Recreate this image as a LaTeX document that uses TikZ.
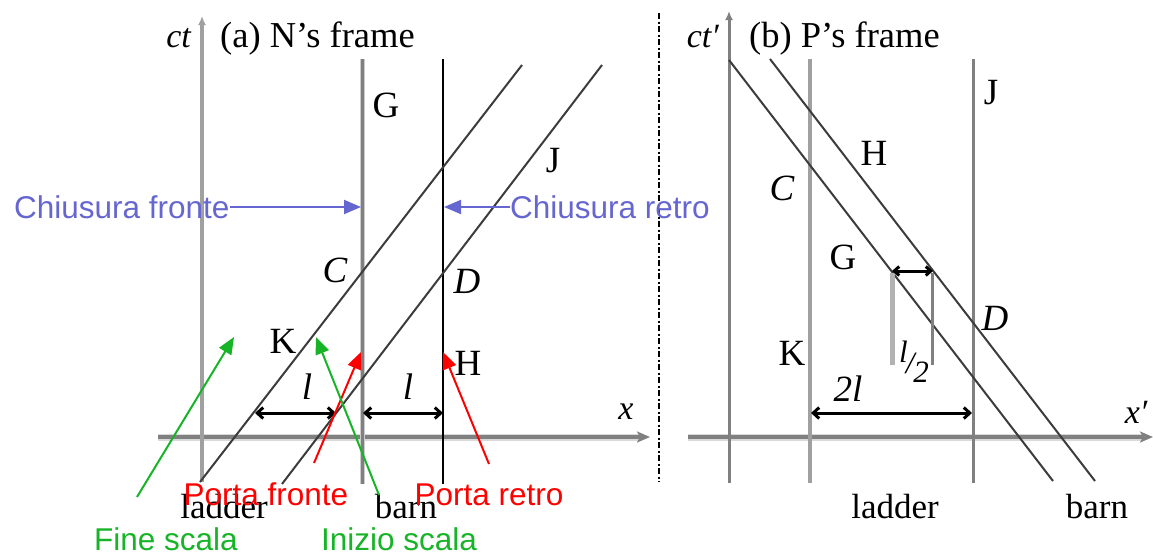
\documentclass[tikz,border=0pt]{standalone}
\usepackage{fontspec}
\setmainfont{Liberation Serif}
\newfontfamily\arialf{Liberation Sans}
\usetikzlibrary{arrows.meta}
\definecolor{annblue}{RGB}{102,102,208}
\definecolor{anngreen}{RGB}{24,180,40}
\definecolor{annred}{RGB}{255,0,0}
\definecolor{axgray}{RGB}{128,128,128}
\definecolor{ltgray}{RGB}{160,160,160}
\definecolor{dkline}{RGB}{60,60,60}
\begin{document}
\begin{tikzpicture}[x=1pt,y=-1pt,
  ttl/.style={font=\fontsize{36.5}{40}\selectfont, inner sep=0pt},
  wrd/.style={font=\fontsize{35}{40}\selectfont, inner sep=0pt},
  lbl/.style={font=\fontsize{37}{40}\selectfont, inner sep=0pt},
  ilbl/.style={font=\fontsize{37}{40}\selectfont\itshape, inner sep=0pt},
  ann/.style={font=\arialf\fontsize{31.5}{36}\selectfont, inner sep=0pt},
  annarrow/.style={line width=2pt, -{Triangle[length=17pt,width=14pt]}},
  vaxis/.style={line width=3.5pt, ltgray, -{Latex[length=9pt,width=8pt]}},
  haxisbg/.style={line width=7pt, black!15},
  haxis/.style={line width=3.5pt, axgray, -{Stealth[length=13pt,width=11pt,inset=3pt]}},
  world/.style={line width=2pt, dkline},
  grayv/.style={line width=3.5pt, ltgray},
  dimarrow/.style={line width=3pt, {Straight Barb[length=6pt,width=11pt]}-{Straight Barb[length=6pt,width=11pt]}},
  sep/.style={line width=2.5pt, dash pattern=on 6pt off 2.5pt on 2pt off 2.5pt}
]
\useasboundingbox (0,0) rectangle (1153,555);

% ===================== Left panel (a) =====================
\coordinate (aXL) at (158,437); \coordinate (aXR) at (650,437);
\draw[haxisbg] (aXL) -- (640,437);
\draw[haxis] (aXL) -- (aXR);
\coordinate (aCtB) at (202,482); \coordinate (aCtT) at (202,16);
\draw[vaxis] (aCtB) -- (aCtT);
% barn front (gray) and rear (black)
\coordinate (bfB) at (362,484); \coordinate (bfT) at (362,59);
\coordinate (brB) at (443,484); \coordinate (brT) at (443,59);
\draw[line width=5pt, black!20] (bfB) -- (bfT);
\draw[line width=3pt, axgray] (bfB) -- (bfT);
\draw[line width=2pt, black] (brB) -- (brT);
% ladder world lines
\coordinate (l1B) at (200,482); \coordinate (l1T) at (522,65);
\coordinate (l2B) at (282,484); \coordinate (l2T) at (602,65);
\draw[world] (l1B) -- (l1T);
\draw[world] (l2B) -- (l2T);
% dimension arrows
\coordinate (d1a) at (255,413); \coordinate (d1b) at (336,413);
\coordinate (d2a) at (363,413); \coordinate (d2b) at (443,413);
\draw[dimarrow] (d1a) -- (d1b);
\draw[dimarrow] (d2a) -- (d2b);
\node[ilbl] (la1) at (307,387) {l};
\node[ilbl] (la2) at (408,387) {l};
% labels
\node[ttl, anchor=base west] (ta) at (220,47) {(a) N’s frame};
\node[font=\fontsize{34}{40}\selectfont\itshape, inner sep=0pt, anchor=base east] (act) at (191,47) {ct};
\node[font=\fontsize{34}{40}\selectfont\itshape, inner sep=0pt] (ax) at (626,412) {x};
\node[lbl] (aG) at (386,105) {G};
\node[ilbl] (aC) at (335,270) {C};
\node[ilbl] (aD) at (467,281) {D};
\node[lbl] (aJ) at (553,161) {J};
\node[lbl] (aK) at (283,341) {K};
\node[lbl] (aH) at (468,363) {H};
\node[wrd, anchor=base] (aladder) at (224,518) {ladder};
\node[wrd, anchor=base] (abarn) at (406,518) {barn};

% separator
\coordinate (sepT) at (659,13); \coordinate (sepB) at (659,482);
\draw[sep] (sepT) -- (sepB);

% ===================== Right panel (b) =====================
\coordinate (bXL) at (688,437); \coordinate (bXR) at (1153,437);
\draw[haxisbg] (bXL) -- (1143,437);
\draw[haxis] (bXL) -- (bXR);
\coordinate (bCtB) at (729,483); \coordinate (bCtT) at (729,11);
\draw[line width=3pt, axgray, -{Latex[length=9pt,width=8pt]}] (bCtB) -- (bCtT);
\coordinate (lbB) at (810,483); \coordinate (lbT) at (810,59);
\coordinate (lfB) at (973,483); \coordinate (lfT) at (973,59);
\draw[grayv] (lbB) -- (lbT);
\draw[line width=3pt, axgray] (lfB) -- (lfT);
% barn world lines
\coordinate (bAT) at (729,60); \coordinate (bAB) at (1053,481);
\coordinate (bBT) at (770,59); \coordinate (bBB) at (1095,481);
\draw[world] (bAT) -- (bAB);
\draw[world] (bBT) -- (bBB);
% l/2 construction
\coordinate (hL1) at (892,273); \coordinate (hL2) at (892,365);
\coordinate (hR1) at (932,273); \coordinate (hR2) at (932,365);
\draw[line width=5pt, black!30] (hL1) -- (hL2);
\draw[line width=3pt, axgray] (hR1) -- (hR2);
\coordinate (ha) at (892,271); \coordinate (hb) at (933,271);
\draw[line width=3pt, {Straight Barb[length=5pt,width=9pt]}-{Straight Barb[length=5pt,width=9pt]}] (ha) -- (hb);
% 2l dimension
\coordinate (e1) at (811,413); \coordinate (e2) at (972,413);
\draw[dimarrow] (e1) -- (e2);
\node[ilbl] (b2l) at (848,389) {2l};
\node[inner sep=0pt, font=\fontsize{31}{34}\selectfont\itshape] (bhalf) at (914,362)
  {\raisebox{0.35em}{l}\kern-2pt/\kern-1pt\raisebox{-0.3em}{2}};
% labels
\node[ttl, anchor=base west] (tb) at (749,47) {(b) P’s frame};
\node[font=\fontsize{34}{40}\selectfont\itshape, inner sep=0pt, anchor=base east] (bct) at (719,47) {ct′};
\node[font=\fontsize{34}{40}\selectfont\itshape, inner sep=0pt] (bx) at (1136,412) {x′};
\node[lbl] (bJ) at (991,93) {J};
\node[lbl] (bH) at (874,153) {H};
\node[ilbl] (bC) at (782,188) {C};
\node[lbl] (bG) at (843,257) {G};
\node[ilbl] (bD) at (995,318) {D};
\node[lbl] (bK) at (792,353) {K};
\node[wrd, anchor=base] (bladder) at (895,518) {ladder};
\node[wrd, anchor=base] (bbarn) at (1097,518) {barn};

% ===================== Annotations =====================
% blue
\node[ann, text=annblue, anchor=west] (cf) at (14,207) {Chiusura fronte};
\node[ann, text=annblue, anchor=west] (cr) at (510,207) {Chiusura retro};
\coordinate (cfTip) at (361,207);
\coordinate (crTip) at (444,207);
\draw[annarrow, annblue] (cf.east) -- (cfTip);
\draw[annarrow, annblue] (cr.west) -- (crTip);
% red
\node[ann, text=annred, anchor=base] (pf) at (266,505) {Porta fronte};
\node[ann, text=annred, anchor=base] (pr) at (489,505) {Porta retro};
\coordinate (pfTail) at (314,463); \coordinate (pfTip) at (361,352);
\coordinate (prTail) at (489,464); \coordinate (prTip) at (443,352);
\draw[annarrow, annred] (pfTail) -- (pfTip);
\draw[annarrow, annred] (prTail) -- (prTip);
% green
\node[ann, text=anngreen, anchor=base] (fs) at (166,550) {Fine scala};
\node[ann, text=anngreen, anchor=base] (is) at (399,550) {Inizio scala};
\coordinate (fsTail) at (137,497); \coordinate (fsTip) at (234,337);
\coordinate (isTail) at (379,495); \coordinate (isTip) at (316,337);
\draw[annarrow, anngreen] (fsTail) -- (fsTip);
\draw[annarrow, anngreen] (isTail) -- (isTip);
\end{tikzpicture}
\end{document}
